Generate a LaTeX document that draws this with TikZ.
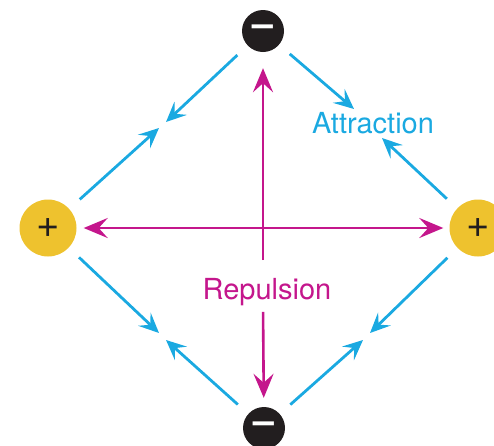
\documentclass[tikz,border=0pt]{standalone}
\usepackage{fontspec}
\setmainfont{TeX Gyre Heros}
\newfontfamily\signfont{DejaVu Sans}
\usetikzlibrary{arrows.meta}
\definecolor{attrblue}{HTML}{1AA9E1}
\definecolor{repmagenta}{HTML}{C4168C}
\definecolor{posyellow}{HTML}{EEC22E}
\definecolor{negblack}{HTML}{221E1F}
\tikzset{
    negcharge/.style={circle,fill=negblack,minimum size=42pt,inner sep=0pt,text=white,font=\signfont\bfseries\fontsize{34}{34}\selectfont},
    poscharge/.style={circle,fill=posyellow,minimum size=57pt,inner sep=0pt,text=negblack,font=\fontsize{40}{40}\selectfont},
    attract/.style={attrblue,line width=2.8pt,shorten <=14pt,-{Stealth[length=20pt,width=18pt,inset=8pt]}},
    repel/.style={repmagenta,line width=2.6pt,{Stealth[length=24pt,width=20pt,inset=9pt]}-{Stealth[length=24pt,width=20pt,inset=9pt]}},
    repelone/.style={repmagenta,line width=2.6pt,-{Stealth[length=24pt,width=20pt,inset=9pt]}},
    label/.style={font=\fontsize{29}{29}\selectfont,inner sep=0pt}
}
\begin{document}
\begin{tikzpicture}[x=1pt,y=-1pt]
    \useasboundingbox (0,0) rectangle (494,445);
    % Charges
    \node[negcharge] (top) at (263,31) {−};
    \node[negcharge] (bot) at (264,428) {−};
    \node[poscharge] (left) at (48,228) {+};
    \node[poscharge] (right) at (478,228) {+};
    % Labels
    \node[label,text=attrblue] (attr) at (373,123) {Attraction};
    \node[label,text=repmagenta] (rep) at (267,292) {Repulsion};
    % Tips of the attraction arrows
    \coordinate (topL) at (166,122);
    \coordinate (topR) at (354,109);
    \coordinate (leftT) at (159,128);
    \coordinate (leftB) at (159,333);
    \coordinate (rightT) at (382,138);
    \coordinate (rightB) at (370,333);
    \coordinate (botL) at (166,340);
    \coordinate (botR) at (363,340);
    % Attraction arrows
    \foreach \from/\to in {top/topL,top/topR,left/leftT,left/leftB,
                           right/rightT,right/rightB,bot/botL,bot/botR} {
        \draw[attract] (\from) -- (\to);
    }
    % Repulsion arrows
    \draw[repel,shorten <=7pt,shorten >=6pt] (left) -- (right);
    \draw[repelone,shorten <=18pt,shorten >=16pt] (rep.north -| top) -- (top);
    \draw[repelone,shorten <=6pt,shorten >=9pt] (rep.south -| top) -- (bot);
\end{tikzpicture}
\end{document}
